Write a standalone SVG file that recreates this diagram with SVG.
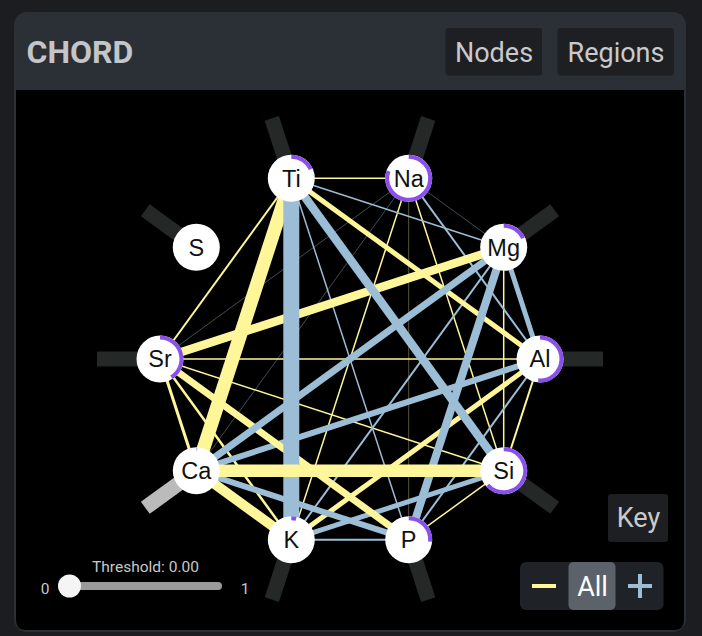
<svg xmlns="http://www.w3.org/2000/svg" width="702" height="636" viewBox="0 0 702 636">
<style>
.y{stroke:#fff69a;fill:none}
.b{stroke:#9bbdd6;fill:none}
.dim{stroke-width:1;opacity:.4}
.bar{stroke:#242927;stroke-width:15;stroke-linecap:butt}
.nc{fill:#ffffff}
.ring{fill:none;stroke:#8b4fec;stroke-width:4}
.nl{font-family:"Liberation Sans",Arial,sans-serif;font-size:23.5px;fill:#111;text-anchor:middle}
.hd{font-family:Roboto,"Liberation Sans",sans-serif}
.btn{fill:#1e1f22}
.bt{font-family:Roboto,"Liberation Sans",sans-serif;font-size:27px;fill:#c9cacc;text-anchor:middle}
</style>
<rect x="0" y="0" width="702" height="636" fill="#1c1d20"/>
<rect x="14" y="12" width="672" height="620" rx="13" fill="#2b2f36"/>
<path d="M16 90 H684 V620 Q684 630 674 630 H26 Q16 630 16 620 Z" fill="#000"/>
<text class="hd" x="26.5" y="62.5" font-size="32" font-weight="bold" fill="#c3c5c8">CHORD</text>
<g id="btn-nodes"><rect class="btn" x="445.5" y="28" width="96.5" height="47.5" rx="3"/><text class="bt" x="494" y="61.5">Nodes</text></g>
<g id="btn-regions"><rect class="btn" x="557.5" y="28" width="116.5" height="47.5" rx="3"/><text class="bt" x="616" y="61.5">Regions</text></g>

<g id="bars">
<line class="bar" x1="291.3" y1="178.3" x2="271.8" y2="118.4"/>
<line class="bar" x1="408.7" y1="178.3" x2="428.2" y2="118.4"/>
<line class="bar" x1="503.7" y1="247.3" x2="554.7" y2="210.2"/>
<line class="bar" x1="540" y1="359" x2="603" y2="359"/>
<line class="bar" x1="503.7" y1="470.7" x2="554.7" y2="507.8"/>
<line class="bar" x1="408.7" y1="539.7" x2="428.2" y2="599.6"/>
<line class="bar" x1="291.3" y1="539.7" x2="271.8" y2="599.6"/>
<line class="bar" x1="196.3" y1="470.7" x2="145.3" y2="507.8" style="stroke:#bbbbbb"/>
<line class="bar" x1="160" y1="359" x2="97" y2="359"/>
<line class="bar" x1="196.3" y1="247.3" x2="145.3" y2="210.2"/>
</g>

<g id="connectors">
<line class="b dim" x1="408.7" y1="178.3" x2="503.7" y2="247.3"/>
<line class="b dim" x1="408.7" y1="178.3" x2="196.3" y2="470.7"/>
<line class="b dim" x1="408.7" y1="178.3" x2="160" y2="359"/>
<line class="y dim" x1="408.7" y1="178.3" x2="408.7" y2="539.7" style="opacity:.35"/>
<line class="y" stroke-width="1.5" x1="291.3" y1="178.3" x2="408.7" y2="178.3"/>
<line class="y" stroke-width="1.5" x1="408.7" y1="178.3" x2="503.7" y2="470.7"/>
<line class="y" stroke-width="1.5" x1="408.7" y1="178.3" x2="291.3" y2="539.7"/>
<line class="y" stroke-width="1.5" x1="503.7" y1="247.3" x2="503.7" y2="470.7"/>
<line class="y" stroke-width="1.5" x1="540" y1="359" x2="160" y2="359"/>
<line class="y" stroke-width="1.5" x1="503.7" y1="470.7" x2="408.7" y2="539.7"/>
<line class="y" stroke-width="1.5" x1="503.7" y1="470.7" x2="160" y2="359"/>
<line class="b" stroke-width="1.5" x1="291.3" y1="178.3" x2="503.7" y2="247.3"/>
<line class="b" stroke-width="1.5" x1="291.3" y1="178.3" x2="408.7" y2="539.7"/>
<line class="y" stroke-width="2" x1="291.3" y1="178.3" x2="160" y2="359"/>
<line class="y" stroke-width="2" x1="540" y1="359" x2="503.7" y2="470.7"/>
<line class="b" stroke-width="2" x1="408.7" y1="178.3" x2="540" y2="359"/>
<line class="b" stroke-width="2" x1="503.7" y1="247.3" x2="291.3" y2="539.7"/>
<line class="b" stroke-width="2" x1="540" y1="359" x2="408.7" y2="539.7"/>
<line class="b" stroke-width="2" x1="408.7" y1="539.7" x2="291.3" y2="539.7"/>
<line class="y" stroke-width="2.5" x1="291.3" y1="539.7" x2="160" y2="359"/>
<line class="y" stroke-width="3" x1="196.3" y1="470.7" x2="160" y2="359"/>
<line class="y" stroke-width="5" x1="291.3" y1="178.3" x2="540" y2="359"/>
<line class="y" stroke-width="5" x1="540" y1="359" x2="291.3" y2="539.7"/>
<line class="b" stroke-width="5" x1="503.7" y1="247.3" x2="540" y2="359"/>
<line class="b" stroke-width="5" x1="503.7" y1="470.7" x2="291.3" y2="539.7"/>
<line class="b" stroke-width="6" x1="540" y1="359" x2="196.3" y2="470.7"/>
<line class="b" stroke-width="6" x1="408.7" y1="539.7" x2="196.3" y2="470.7"/>
<line class="y" stroke-width="7" x1="408.7" y1="539.7" x2="160" y2="359"/>
<line class="b" stroke-width="7" x1="503.7" y1="247.3" x2="196.3" y2="470.7"/>
<line class="y" stroke-width="8.5" x1="503.7" y1="247.3" x2="160" y2="359"/>
<line class="b" stroke-width="8" x1="503.7" y1="247.3" x2="408.7" y2="539.7"/>
<line class="b" stroke-width="8.5" x1="291.3" y1="178.3" x2="503.7" y2="470.7"/>
<line class="y" stroke-width="10" x1="291.3" y1="539.7" x2="196.3" y2="470.7"/>
<line class="y" stroke-width="13.5" x1="291.3" y1="178.3" x2="196.3" y2="470.7"/>
<line class="b" stroke-width="16" x1="291.3" y1="178.3" x2="291.3" y2="539.7"/>
<line class="y" stroke-width="12.5" x1="196.3" y1="470.7" x2="503.7" y2="470.7"/>
</g>

<g id="node-Ti"><circle class="nc" cx="291.3" cy="178.3" r="23.5"/><path class="ring" d="M291.3 156.8 A21.5 21.5 0 0 1 310.79 169.21"/><text class="nl" x="291.3" y="186.7">Ti</text></g>
<g id="node-Na"><circle class="nc" cx="408.7" cy="178.3" r="23.5"/><path class="ring" d="M408.7 156.8 A21.5 21.5 0 1 1 388.5 170.95"/><text class="nl" x="408.7" y="186.7">Na</text></g>
<g id="node-Mg"><circle class="nc" cx="503.7" cy="247.3" r="23.5"/><path class="ring" d="M503.7 225.8 A21.5 21.5 0 0 1 523.19 238.21"/><text class="nl" x="503.7" y="255.7">Mg</text></g>
<g id="node-Al"><circle class="nc" cx="540" cy="359" r="23.5"/><path class="ring" d="M540 337.5 A21.5 21.5 0 1 1 538.13 380.42"/><text class="nl" x="540" y="367.4">Al</text></g>
<g id="node-Si"><circle class="nc" cx="503.7" cy="470.7" r="23.5"/><path class="ring" d="M503.7 449.2 A21.5 21.5 0 1 1 487.72 485.09"/><text class="nl" x="503.7" y="479.1">Si</text></g>
<g id="node-P"><circle class="nc" cx="408.7" cy="539.7" r="23.5"/><path class="ring" d="M408.7 518.2 A21.5 21.5 0 0 1 430.12 541.57"/><text class="nl" x="408.7" y="548.1">P</text></g>
<g id="node-K"><circle class="nc" cx="291.3" cy="539.7" r="23.5"/><path class="ring" d="M291.3 518.2 A21.5 21.5 0 0 1 296.14 518.75"/><text class="nl" x="291.3" y="548.1">K</text></g>
<g id="node-Ca"><circle class="nc" cx="196.3" cy="470.7" r="23.5"/><path class="ring" d="M196.3 449.2 A21.5 21.5 0 0 1 197.24 449.22" style="stroke-width:3;opacity:.6"/><text class="nl" x="196.3" y="479.1">Ca</text></g>
<g id="node-Sr"><circle class="nc" cx="160" cy="359" r="23.5"/><path class="ring" d="M160 337.5 A21.5 21.5 0 0 1 171.39 377.23"/><text class="nl" x="160" y="367.4">Sr</text></g>
<g id="node-S"><circle class="nc" cx="196.3" cy="247.3" r="23.5"/><text class="nl" x="196.3" y="255.7">S</text></g>

<g id="threshold">
<text x="145.5" y="571.5" font-family="Roboto,'Liberation Sans',sans-serif" font-size="15.5" fill="#c8c8c8" text-anchor="middle">Threshold: 0.00</text>
<text x="45" y="594" font-family="Roboto,'Liberation Sans',sans-serif" font-size="15.5" fill="#c8c8c8" text-anchor="middle">0</text>
<text x="245" y="594" font-family="Roboto,'Liberation Sans',sans-serif" font-size="15.5" fill="#c8c8c8" text-anchor="middle">1</text>
<line x1="64" y1="586" x2="218" y2="586" stroke="#9a9a9a" stroke-width="8" stroke-linecap="round"/>
<circle cx="69.5" cy="586" r="11.5" fill="#f5f5f5"/>
</g>
<g id="btn-key"><rect class="btn" x="608" y="494" width="60" height="48" rx="3"/><text class="bt" x="638.5" y="527">Key</text></g>
<g id="zoom-controls">
<rect x="520" y="562" width="143.5" height="48" rx="6" fill="#1f2226"/>
<rect x="568.5" y="562" width="47" height="48" rx="5" fill="#5b6269"/>
<text x="592.5" y="596" font-family="Roboto,'Liberation Sans',sans-serif" font-size="27" fill="#ffffff" text-anchor="middle">All</text>
<line x1="532" y1="586" x2="556" y2="586" stroke="#fff69a" stroke-width="4"/>
<line x1="628" y1="586" x2="652" y2="586" stroke="#9bbdd6" stroke-width="4"/>
<line x1="640" y1="574" x2="640" y2="598" stroke="#9bbdd6" stroke-width="4"/>
</g>
</svg>
